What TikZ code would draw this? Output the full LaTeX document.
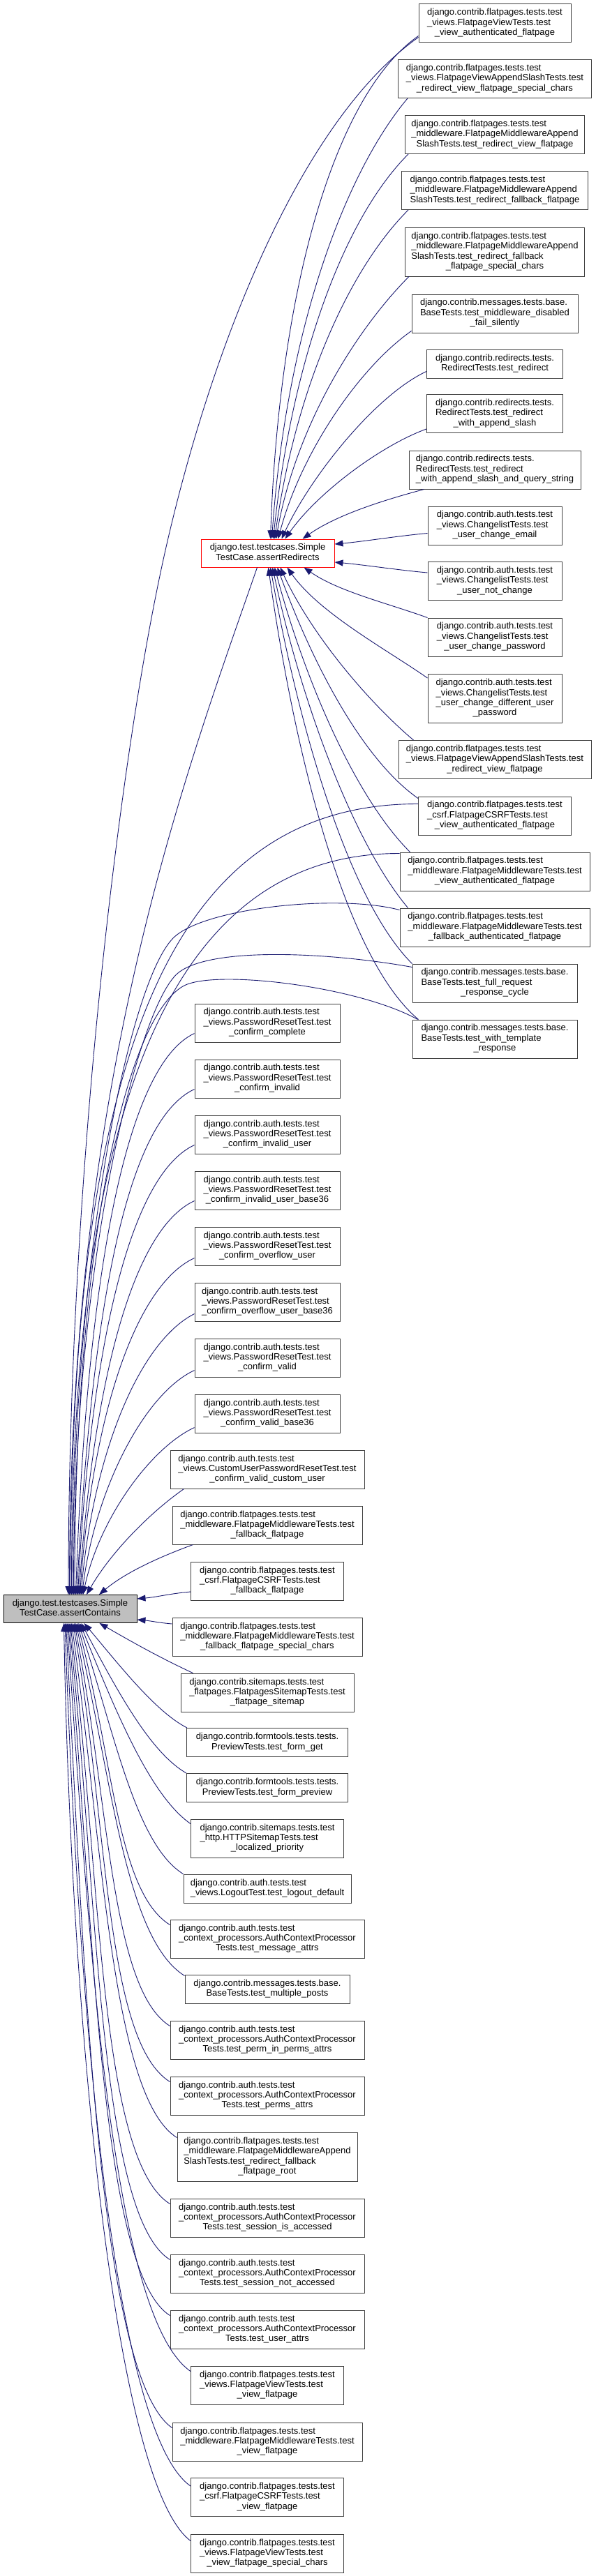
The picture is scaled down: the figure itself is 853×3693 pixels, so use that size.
\documentclass[tikz,border=0pt]{standalone}
\usepackage{fontspec}
\setmainfont{Liberation Sans}
\usetikzlibrary{arrows.meta}
\definecolor{mblue}{HTML}{191970}
\definecolor{gdark}{HTML}{404040}
\definecolor{glight}{HTML}{BFBFBF}
\newcommand\lab[2]{\begin{tabular}{@{}l@{}}#1\\\multicolumn{1}{@{}c@{}}{#2}\end{tabular}}
\newcommand\nfont{\fontsize{6.5pt}{7.2pt}\selectfont}
\begin{document}
\begin{tikzpicture}[x=0.5pt,y=0.5pt,
  fn/.style={draw=gdark, line width=0.5pt, fill=white, inner sep=0pt, font=\nfont},
  hot/.style={fn, draw=red},
  rootnode/.style={fn, draw=black, fill=glight},
  wd/.style={minimum width=#1*0.5pt},
  htwo/.style={minimum height=20.5pt},
  hthree/.style={minimum height=27.5pt},
  hfour/.style={minimum height=35pt},
  callline/.style={draw=mblue, line width=0.45pt, {Triangle[length=6pt,width=4.5pt]}-}]
\fill[white] (0,0) rectangle (853,-3693);
\useasboundingbox (0,0) rectangle (853,-3693);

% ---------- root and second callee ----------
\node[rootnode, wd=191, minimum height=20pt] (ac) at (100.5,-2306.5) {\lab{django.test.testcases.Simple}{TestCase.assertContains}};
\node[hot, wd=191, minimum height=20pt] (ar) at (383.5,-793) {\lab{django.test.testcases.Simple}{TestCase.assertRedirects}};

% ---------- right column ----------
\node[fn,hthree,wd=218] (r1) at (709,-33.5) {\lab{django.contrib.flatpages.tests.test\\\_views.FlatpageViewTests.test}{\_view\_authenticated\_flatpage}};
\node[fn,hthree,wd=277] (r2) at (709,-113) {\lab{django.contrib.flatpages.tests.test\\\_views.FlatpageViewAppendSlashTests.test}{\_redirect\_view\_flatpage\_special\_chars}};
\node[fn,hthree,wd=257] (r3) at (709,-193) {\lab{django.contrib.flatpages.tests.test\\\_middleware.FlatpageMiddlewareAppend}{SlashTests.test\_redirect\_view\_flatpage}};
\node[fn,hthree,wd=267] (r4) at (709,-273) {\lab{django.contrib.flatpages.tests.test\\\_middleware.FlatpageMiddlewareAppend}{SlashTests.test\_redirect\_fallback\_flatpage}};
\node[fn,hfour,wd=257] (r5) at (709,-361) {\lab{django.contrib.flatpages.tests.test\\\_middleware.FlatpageMiddlewareAppend\\SlashTests.test\_redirect\_fallback}{\_flatpage\_special\_chars}};
\node[fn,hthree,wd=238] (r6) at (709,-449.5) {\lab{django.contrib.messages.tests.base.\\BaseTests.test\_middleware\_disabled}{\_fail\_silently}};
\node[fn,htwo,wd=195] (r7) at (709,-521.5) {\lab{django.contrib.redirects.tests.}{RedirectTests.test\_redirect}};
\node[fn,hthree,wd=195] (r8) at (709,-593) {\lab{django.contrib.redirects.tests.\\RedirectTests.test\_redirect}{\_with\_append\_slash}};
\node[fn,hthree,wd=246] (r9) at (709,-673.5) {\lab{django.contrib.redirects.tests.\\RedirectTests.test\_redirect}{\_with\_append\_slash\_and\_query\_string}};
\node[fn,hthree,wd=192] (r10) at (709,-753.5) {\lab{django.contrib.auth.tests.test\\\_views.ChangelistTests.test}{\_user\_change\_email}};
\node[fn,hthree,wd=192] (r11) at (709,-833) {\lab{django.contrib.auth.tests.test\\\_views.ChangelistTests.test}{\_user\_not\_change}};
\node[fn,hthree,wd=192] (r12) at (709,-913.5) {\lab{django.contrib.auth.tests.test\\\_views.ChangelistTests.test}{\_user\_change\_password}};
\node[fn,hfour,wd=192] (r13) at (709,-1001.5) {\lab{django.contrib.auth.tests.test\\\_views.ChangelistTests.test\\\_user\_change\_different\_user}{\_password}};
\node[fn,hthree,wd=276] (r14) at (709,-1089) {\lab{django.contrib.flatpages.tests.test\\\_views.FlatpageViewAppendSlashTests.test}{\_redirect\_view\_flatpage}};
\node[fn,hthree,wd=219] (r15) at (709,-1169.5) {\lab{django.contrib.flatpages.tests.test\\\_csrf.FlatpageCSRFTests.test}{\_view\_authenticated\_flatpage}};
\node[fn,hthree,wd=272] (r16) at (709,-1249.5) {\lab{django.contrib.flatpages.tests.test\\\_middleware.FlatpageMiddlewareTests.test}{\_view\_authenticated\_flatpage}};
\node[fn,hthree,wd=272] (r17) at (709,-1329.5) {\lab{django.contrib.flatpages.tests.test\\\_middleware.FlatpageMiddlewareTests.test}{\_fallback\_authenticated\_flatpage}};
\node[fn,hthree,wd=236] (r18) at (709,-1409.5) {\lab{django.contrib.messages.tests.base.\\BaseTests.test\_full\_request}{\_response\_cycle}};
\node[fn,hthree,wd=236] (r19) at (709,-1489.5) {\lab{django.contrib.messages.tests.base.\\BaseTests.test\_with\_template}{\_response}};

% ---------- middle column ----------
\node[fn,hthree,wd=208] (m1) at (383,-1466.5) {\lab{django.contrib.auth.tests.test\\\_views.PasswordResetTest.test}{\_confirm\_complete}};
\node[fn,hthree,wd=208] (m2) at (383,-1546.5) {\lab{django.contrib.auth.tests.test\\\_views.PasswordResetTest.test}{\_confirm\_invalid}};
\node[fn,hthree,wd=208] (m3) at (383,-1626.5) {\lab{django.contrib.auth.tests.test\\\_views.PasswordResetTest.test}{\_confirm\_invalid\_user}};
\node[fn,hthree,wd=208] (m4) at (383,-1706.5) {\lab{django.contrib.auth.tests.test\\\_views.PasswordResetTest.test}{\_confirm\_invalid\_user\_base36}};
\node[fn,hthree,wd=208] (m5) at (383,-1786.5) {\lab{django.contrib.auth.tests.test\\\_views.PasswordResetTest.test}{\_confirm\_overflow\_user}};
\node[fn,hthree,wd=208] (m6) at (383,-1866.5) {\lab{django.contrib.auth.tests.test\\\_views.PasswordResetTest.test}{\_confirm\_overflow\_user\_base36}};
\node[fn,hthree,wd=208] (m7) at (383,-1946.5) {\lab{django.contrib.auth.tests.test\\\_views.PasswordResetTest.test}{\_confirm\_valid}};
\node[fn,hthree,wd=208] (m8) at (383,-2026.5) {\lab{django.contrib.auth.tests.test\\\_views.PasswordResetTest.test}{\_confirm\_valid\_base36}};
\node[fn,hthree,wd=278] (m9) at (383,-2106.5) {\lab{django.contrib.auth.tests.test\\\_views.CustomUserPasswordResetTest.test}{\_confirm\_valid\_custom\_user}};
\node[fn,hthree,wd=272] (m10) at (383,-2186.5) {\lab{django.contrib.flatpages.tests.test\\\_middleware.FlatpageMiddlewareTests.test}{\_fallback\_flatpage}};
\node[fn,hthree,wd=219] (m11) at (383,-2266.5) {\lab{django.contrib.flatpages.tests.test\\\_csrf.FlatpageCSRFTests.test}{\_fallback\_flatpage}};
\node[fn,hthree,wd=272] (m12) at (383,-2346.5) {\lab{django.contrib.flatpages.tests.test\\\_middleware.FlatpageMiddlewareTests.test}{\_fallback\_flatpage\_special\_chars}};
\node[fn,hthree,wd=248] (m13) at (383,-2426.5) {\lab{django.contrib.sitemaps.tests.test\\\_flatpages.FlatpagesSitemapTests.test}{\_flatpage\_sitemap}};
\node[fn,htwo,wd=231] (m14) at (383,-2498) {\lab{django.contrib.formtools.tests.tests.}{PreviewTests.test\_form\_get}};
\node[fn,htwo,wd=231] (m15) at (383,-2563) {\lab{django.contrib.formtools.tests.tests.}{PreviewTests.test\_form\_preview}};
\node[fn,hthree,wd=219] (m16) at (383,-2635.5) {\lab{django.contrib.sitemaps.tests.test\\\_http.HTTPSitemapTests.test}{\_localized\_priority}};
\node[fn,htwo,wd=240] (m17) at (383,-2707.5) {\lab{django.contrib.auth.tests.test}{\_views.LogoutTest.test\_logout\_default}};
\node[fn,hthree,wd=278] (m18) at (383,-2779.5) {\lab{django.contrib.auth.tests.test\\\_context\_processors.AuthContextProcessor}{Tests.test\_message\_attrs}};
\node[fn,htwo,wd=236] (m19) at (383,-2851.5) {\lab{django.contrib.messages.tests.base.}{BaseTests.test\_multiple\_posts}};
\node[fn,hthree,wd=278] (m20) at (383,-2924.5) {\lab{django.contrib.auth.tests.test\\\_context\_processors.AuthContextProcessor}{Tests.test\_perm\_in\_perms\_attrs}};
\node[fn,hthree,wd=278] (m21) at (383,-3004.5) {\lab{django.contrib.auth.tests.test\\\_context\_processors.AuthContextProcessor}{Tests.test\_perms\_attrs}};
\node[fn,hfour,wd=258] (m22) at (383,-3092) {\lab{django.contrib.flatpages.tests.test\\\_middleware.FlatpageMiddlewareAppend\\SlashTests.test\_redirect\_fallback}{\_flatpage\_root}};
\node[fn,hthree,wd=278] (m23) at (383,-3179.5) {\lab{django.contrib.auth.tests.test\\\_context\_processors.AuthContextProcessor}{Tests.test\_session\_is\_accessed}};
\node[fn,hthree,wd=278] (m24) at (383,-3259.5) {\lab{django.contrib.auth.tests.test\\\_context\_processors.AuthContextProcessor}{Tests.test\_session\_not\_accessed}};
\node[fn,hthree,wd=278] (m25) at (383,-3339.5) {\lab{django.contrib.auth.tests.test\\\_context\_processors.AuthContextProcessor}{Tests.test\_user\_attrs}};
\node[fn,hthree,wd=219] (m26) at (383,-3419.5) {\lab{django.contrib.flatpages.tests.test\\\_views.FlatpageViewTests.test}{\_view\_flatpage}};
\node[fn,hthree,wd=272] (m27) at (383,-3500.5) {\lab{django.contrib.flatpages.tests.test\\\_middleware.FlatpageMiddlewareTests.test}{\_view\_flatpage}};
\node[fn,hthree,wd=219] (m28) at (383,-3580) {\lab{django.contrib.flatpages.tests.test\\\_csrf.FlatpageCSRFTests.test}{\_view\_flatpage}};
\node[fn,hthree,wd=219] (m29) at (383,-3660.5) {\lab{django.contrib.flatpages.tests.test\\\_views.FlatpageViewTests.test}{\_view\_flatpage\_special\_chars}};

% ---------- edges into assertRedirects ----------
\draw[callline] ([shift={(4,0)}]ar.north) to[out=88,in=215,out distance=175pt,in distance=75pt] ([shift={(0,-18)}]r1.west);
\draw[callline] ([shift={(6,0)}]ar.north) to[out=86,in=230,out distance=150pt,in distance=70pt] ([shift={(14,0)}]r2.south west);
\draw[callline] ([shift={(8,0)}]ar.north) to[out=84,in=225,out distance=130pt,in distance=65pt] ([shift={(5,0)}]r3.south west);
\draw[callline] ([shift={(10,0)}]ar.north) to[out=82,in=225,out distance=110pt,in distance=60pt] ([shift={(10,0)}]r4.south west);
\draw[callline] ([shift={(12,0)}]ar.north) to[out=80,in=225,out distance=85pt,in distance=50pt] ([shift={(6,0)}]r5.south west);
\draw[callline] ([shift={(15,0)}]ar.north) to[out=75,in=215,out distance=65pt,in distance=45pt] ([shift={(0,3)}]r6.south west);
\draw[callline] ([shift={(20,0)}]ar.north) to[out=65,in=205,out distance=50pt,in distance=40pt] ([shift={(0,-11)}]r7.west);
\draw[callline] ([shift={(25,0)}]ar.north) to[out=55,in=200,out distance=40pt,in distance=35pt] ([shift={(0,-22)}]r8.west);
\draw[callline] ([shift={(50,0)}]ar.north) to[out=35,in=195,out distance=30pt,in distance=30pt] ([shift={(22,0)}]r9.south west);
\draw[callline] ([shift={(0,13)}]ar.east) to[out=5,in=185,out distance=20pt,in distance=20pt] ([shift={(0,-11)}]r10.west);
\draw[callline] ([shift={(0,-13)}]ar.east) to[out=-5,in=175,out distance=20pt,in distance=20pt] ([shift={(0,12)}]r11.west);
\draw[callline] ([shift={(52,0)}]ar.south) to[out=-35,in=160,out distance=30pt,in distance=30pt] (r12.north west);
\draw[callline] ([shift={(28,0)}]ar.south) to[out=-55,in=145,out distance=40pt,in distance=35pt] ([shift={(0,-6)}]r13.north west);
\draw[callline] ([shift={(18,0)}]ar.south) to[out=-65,in=140,out distance=55pt,in distance=40pt] ([shift={(22,0)}]r14.north west);
\draw[callline] ([shift={(14,0)}]ar.south) to[out=-70,in=145,out distance=70pt,in distance=50pt] ([shift={(0,-3)}]r15.north west);
\draw[callline] ([shift={(10,0)}]ar.south) to[out=-75,in=135,out distance=85pt,in distance=55pt] ([shift={(15,0)}]r16.north west);
\draw[callline] ([shift={(7,0)}]ar.south) to[out=-78,in=130,out distance=100pt,in distance=60pt] ([shift={(12,0)}]r17.north west);
\draw[callline] ([shift={(4,0)}]ar.south) to[out=-80,in=135,out distance=115pt,in distance=65pt] (r18.north west);
\draw[callline] ([shift={(1,0)}]ar.south) to[out=-82,in=140,out distance=130pt,in distance=70pt] ([shift={(9,0)}]r19.north west);

% ---------- long edges into assertContains ----------
\draw[callline] ([shift={(-2.5,0)}]ac.north) .. controls (98,-1700) and (170,-1080) .. (239,-780) .. controls (308,-480) and (436,-169) .. ([shift={(0,-20)}]r1.west);
\draw[callline] ([shift={(-1,0)}]ac.north) .. controls (99.5,-1550) and (263,-1117) .. ([shift={(-15,0)}]ar.south);
\draw[callline] ([shift={(0.5,0)}]ac.north) .. controls (101,-1500) and (250,-1152) .. ([shift={(0,17)}]r15.west);
\draw[callline] ([shift={(2,0)}]ac.north) .. controls (102.5,-1520) and (275,-1223) .. ([shift={(0,26)}]r16.west);
\draw[callline] ([shift={(3.5,0)}]ac.north) .. controls (104,-1800) and (185,-1409) .. (248,-1345) .. controls (290,-1302) and (483,-1281) .. ([shift={(0,25)}]r17.west);
\draw[callline] ([shift={(5,0)}]ac.north) .. controls (105.5,-1800) and (200,-1440) .. (255,-1395) .. controls (301,-1357) and (471,-1365) .. ([shift={(0,23)}]r18.west);
\draw[callline] ([shift={(6.5,0)}]ac.north) .. controls (107,-1800) and (177,-1464) .. (262,-1414) .. controls (304,-1389) and (511,-1413) .. ([shift={(8,0)}]r19.north west);

% ---------- edges from the middle column into assertContains ----------
\draw[callline] ([shift={(8,0)}]ac.north) to[out=88,in=205,out distance=225pt,in distance=55pt] ([shift={(0,-15)}]m1.west);
\draw[callline] ([shift={(9.5,0)}]ac.north) to[out=87,in=205,out distance=200pt,in distance=55pt] ([shift={(0,-15)}]m2.west);
\draw[callline] ([shift={(11,0)}]ac.north) to[out=87,in=205,out distance=175pt,in distance=52pt] ([shift={(0,-15)}]m3.west);
\draw[callline] ([shift={(12.5,0)}]ac.north) to[out=86,in=205,out distance=150pt,in distance=50pt] ([shift={(0,-15)}]m4.west);
\draw[callline] ([shift={(14,0)}]ac.north) to[out=86,in=205,out distance=125pt,in distance=48pt] ([shift={(0,-17)}]m5.west);
\draw[callline] ([shift={(15.5,0)}]ac.north) to[out=85,in=207,out distance=100pt,in distance=45pt] ([shift={(0,-17)}]m6.west);
\draw[callline] ([shift={(17,0)}]ac.north) to[out=83,in=205,out distance=75pt,in distance=40pt] ([shift={(0,-18)}]m7.west);
\draw[callline] ([shift={(18.5,0)}]ac.north) to[out=78,in=205,out distance=55pt,in distance=35pt] ([shift={(0,-20)}]m8.west);
\draw[callline] ([shift={(23.5,0)}]ac.north) to[out=60,in=215,out distance=35pt,in distance=30pt] ([shift={(20,0)}]m9.south west);
\draw[callline] ([shift={(41.5,0)}]ac.north) to[out=40,in=200,out distance=25pt,in distance=25pt] ([shift={(30,0)}]m10.south west);
\draw[callline] ([shift={(0,14.5)}]ac.east) to[out=5,in=185,out distance=15pt,in distance=15pt] ([shift={(0,-15.5)}]m11.west);
\draw[callline] ([shift={(0,-15.5)}]ac.east) to[out=-5,in=175,out distance=10pt,in distance=10pt] ([shift={(0,18.5)}]m12.west);
\draw[callline] ([shift={(42,0)}]ac.south) to[out=-30,in=155,out distance=30pt,in distance=25pt] ([shift={(18,0)}]m13.north west);
\draw[callline] ([shift={(20,0)}]ac.south) to[out=-50,in=153,out distance=40pt,in distance=25pt] ([shift={(1,0)}]m14.north west);
\draw[callline] ([shift={(16,0)}]ac.south) to[out=-62,in=150,out distance=55pt,in distance=30pt] (m15.north west);
\draw[callline] ([shift={(14,0)}]ac.south) to[out=-68,in=145,out distance=70pt,in distance=35pt] ([shift={(0,-7)}]m16.north west);
\draw[callline] ([shift={(12,0)}]ac.south) to[out=-72,in=148,out distance=85pt,in distance=40pt] (m17.north west);
\draw[callline] ([shift={(10,0)}]ac.south) to[out=-75,in=148,out distance=100pt,in distance=45pt] ([shift={(0,-8)}]m18.north west);
\draw[callline] ([shift={(8,0)}]ac.south) to[out=-77,in=148,out distance=115pt,in distance=50pt] ([shift={(0,-2)}]m19.north west);
\draw[callline] ([shift={(6,0)}]ac.south) to[out=-79,in=148,out distance=130pt,in distance=50pt] ([shift={(0,-8)}]m20.north west);
\draw[callline] ([shift={(4,0)}]ac.south) to[out=-80,in=148,out distance=145pt,in distance=55pt] ([shift={(0,-8)}]m21.north west);
\draw[callline] ([shift={(2,0)}]ac.south) to[out=-82,in=148,out distance=160pt,in distance=55pt] ([shift={(0,-8)}]m22.north west);
\draw[callline] ([shift={(0,0)}]ac.south) to[out=-83,in=148,out distance=180pt,in distance=60pt] ([shift={(0,-8)}]m23.north west);
\draw[callline] ([shift={(-1.5,0)}]ac.south) to[out=-84,in=148,out distance=195pt,in distance=60pt] ([shift={(0,-8)}]m24.north west);
\draw[callline] ([shift={(-3,0)}]ac.south) to[out=-85,in=148,out distance=210pt,in distance=60pt] ([shift={(0,-8)}]m25.north west);
\draw[callline] ([shift={(-4.5,0)}]ac.south) to[out=-86,in=145,out distance=225pt,in distance=70pt] ([shift={(0,-8)}]m26.north west);
\draw[callline] ([shift={(-6,0)}]ac.south) to[out=-87,in=145,out distance=240pt,in distance=65pt] ([shift={(0,-8)}]m27.north west);
\draw[callline] ([shift={(-7.5,0)}]ac.south) to[out=-88,in=145,out distance=255pt,in distance=70pt] ([shift={(0,-12)}]m28.north west);
\draw[callline] ([shift={(-9,0)}]ac.south) to[out=-89,in=143,out distance=270pt,in distance=70pt] ([shift={(0,-10)}]m29.north west);
\end{tikzpicture}
\end{document}
